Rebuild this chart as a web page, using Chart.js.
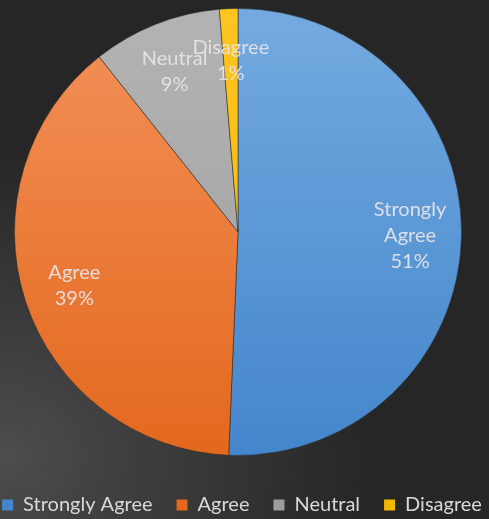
<!DOCTYPE html>
<html>
<head>
<meta charset="utf-8">
<script src="https://cdn.jsdelivr.net/npm/chart.js@4"></script>
<style>
  html, body { margin: 0; padding: 0; }
  body {
    width: 489px; height: 519px; overflow: hidden;
    background: radial-gradient(ellipse 95% 75% at 0% 88%, #4d4d4d 0%, #3b3b3b 35%, #262626 80%);
  }
  #wrap { position: relative; width: 489px; height: 519px; }
</style>
</head>
<body>
<div id="wrap"><canvas id="pie"></canvas></div>
<script>
// survey responses
const categories = ["Strongly Agree", "Agree", "Neutral", "Disagree"];
const responses = [38, 29, 7, 1];

const topColors = ["#74aae0", "#f3915a", "#b3b3b3", "#ffc520"];
const bottomColors = ["#4386cb", "#e3681c", "#9d9d9d", "#f2b800"];

const total = responses.reduce((a, b) => a + b, 0);
const percents = responses.map(v => Math.round(v / total * 100) + "%");

function sliceFill(ctx) {
  const area = ctx.chart.chartArea;
  const i = ctx.dataIndex;
  if (!area) return bottomColors[i];
  const g = ctx.chart.ctx.createLinearGradient(0, area.top, 0, area.bottom);
  g.addColorStop(0, topColors[i]);
  g.addColorStop(1, bottomColors[i]);
  return g;
}

// labels inside each slice: category name (wrapped) + percent
const sliceLabels = {
  id: "sliceLabels",
  afterDatasetsDraw(chart) {
    const c = chart.ctx;
    const meta = chart.getDatasetMeta(0);
    c.save();
    c.font = "20px Lato";
    c.fillStyle = "rgba(232,228,232,0.92)";
    c.textAlign = "center";
    c.textBaseline = "middle";
    meta.data.forEach((arc, i) => {
      const p = arc.getProps(["x", "y", "startAngle", "endAngle", "outerRadius"], true);
      const mid = (p.startAngle + p.endAngle) / 2;
      const r = p.outerRadius * 0.77;
      const cx = p.x + Math.cos(mid) * r;
      const cy = p.y + Math.sin(mid) * r;
      const lines = categories[i] === "Strongly Agree"
        ? ["Strongly", "Agree", percents[i]]
        : [categories[i], percents[i]];
      const lh = 26;
      const y0 = cy - (lines.length - 1) * lh / 2;
      lines.forEach((t, k) => c.fillText(t, cx, y0 + k * lh));
    });
    c.restore();
  }
};

// the legend row is a bit wider than the plot area: keep it on one row
const wideLegend = {
  id: "wideLegend",
  afterInit(chart) {
    const lg = chart.legend;
    const fit = lg.fit.bind(lg);
    lg.fit = function () {
      const mw = this.maxWidth;
      this.maxWidth = 560;
      fit();
      this.maxWidth = mw;
      this.width = mw;
    };
  },
  afterLayout(chart) {
    const lg = chart.legend;
    lg.left = -28;
    lg.right = 512;
    lg.width = 540;
  }
};

new Chart(document.getElementById("pie"), {
  type: "pie",
  data: {
    labels: categories,
    datasets: [{
      data: responses,
      backgroundColor: sliceFill,
      borderColor: "rgba(45,45,45,0.55)",
      borderWidth: 1
    }]
  },
  options: {
    responsive: true,
    maintainAspectRatio: false,
    animation: false,
    layout: { padding: { top: 8, left: 0, right: 13, bottom: -6 } },
    plugins: {
      tooltip: { enabled: false },
      legend: {
        position: "bottom",
        title: { display: true, text: "", padding: 0, font: { size: 12.5 } },
        labels: {
          color: "#d9d9d9",
          font: { family: "Lato", size: 20 },
          boxWidth: 11,
          boxHeight: 11,
          padding: 24,
          generateLabels(chart) {
            return categories.map((name, i) => ({
              text: name,
              fillStyle: bottomColors[i],
              strokeStyle: bottomColors[i],
              lineWidth: 0,
              fontColor: "#d9d9d9",
              index: i
            }));
          }
        }
      }
    }
  },
  plugins: [sliceLabels, wideLegend]
});
</script>
</body>
</html>
